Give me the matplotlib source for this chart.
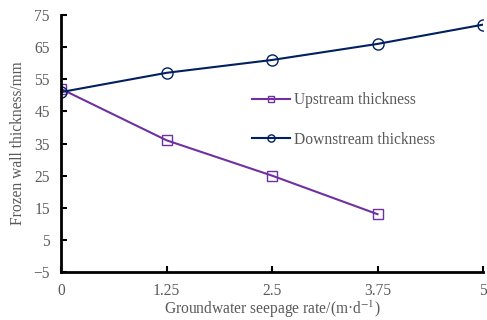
import matplotlib

matplotlib.use("Agg")
import matplotlib.pyplot as plt

plt.rcParams["font.family"] = ["Liberation Serif", "DejaVu Serif"]
plt.rcParams["mathtext.fontset"] = "stix"

seepage_rate = [0, 1.25, 2.5, 3.75, 5]
upstream = [52, 36, 25, 13]
downstream = [51, 57, 61, 66, 72]
x_ticks = [0, 1.25, 2.5, 3.75, 5]
x_tick_labels = ["0", "1.25", "2.5", "3.75", "5"]
y_ticks = [-5, 5, 15, 25, 35, 45, 55, 65, 75]

GREY = "#595959"

fig = plt.figure(figsize=(4.87, 3.2), dpi=100)
ax = fig.add_axes([61 / 487, 48 / 320, 422 / 487, 257 / 320])

ax.plot(seepage_rate[:len(upstream)], upstream, color="#7030A0", lw=1.5,
        marker="s", ms=7, mfc="none", mew=1.0, label="Upstream thickness")
ax.plot(seepage_rate, downstream, color="#002060", lw=1.5,
        marker="o", ms=8, mfc="none", mew=1.0, label="Downstream thickness")

ax.set_xlim(0, 5)
ax.set_ylim(-5, 75)
ax.set_xticks(x_ticks)
ax.set_xticklabels(x_tick_labels)
ax.set_yticks(y_ticks)
ax.set_yticklabels(["\u22125"] + [str(v) for v in y_ticks[1:]])

for side in ("top", "right"):
    ax.spines[side].set_visible(False)
for side in ("left", "bottom"):
    ax.spines[side].set_linewidth(2.0)
ax.tick_params(direction="in", length=4, width=1.5, labelsize=11.2,
               labelcolor=GREY)
ax.tick_params(axis="x", pad=8)
ax.tick_params(axis="y", pad=8)

ax.set_xlabel("Groundwater seepage rate/(m\u00b7d$^{\u22121}$)", fontsize=11.2,
              color=GREY, labelpad=0)
ax.set_ylabel("Frozen wall thickness/mm", fontsize=11.2, color=GREY, labelpad=5)

ax.legend(loc="upper left", bbox_to_anchor=(246 / 487, 1 - 86 / 320),
          bbox_transform=fig.transFigure, frameon=False, fontsize=11.2,
          labelcolor=GREY, handlelength=2.4, handletextpad=0.3,
          labelspacing=1.5, borderaxespad=0, markerscale=0.65)

fig.savefig("out.png", dpi=100)
